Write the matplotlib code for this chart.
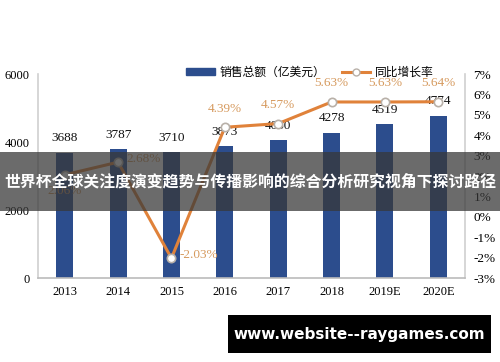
import matplotlib
matplotlib.use("Agg")
import matplotlib.pyplot as plt
from matplotlib.lines import Line2D
from matplotlib.patches import Rectangle

years = ["2013", "2014", "2015", "2016", "2017", "2018", "2019E", "2020E"]
sales = [3688, 3787, 3710, 3873, 4050, 4278, 4519, 4774]
growth = [2.06, 2.68, -2.03, 4.39, 4.57, 5.63, 5.63, 5.64]
left_ticks = [0, 2000, 4000, 6000]
right_ticks = [-3, -2, -1, 0, 1, 2, 3, 4, 5, 6, 7]

bar_color = "#2C4D8D"
line_color = "#E0823A"
pct_color = "#D69A5E"
serif = "Liberation Serif"
cjk = ["Noto Sans CJK SC", "DejaVu Sans"]

fig = plt.figure(figsize=(5, 3.62), dpi=100)
ax = fig.add_axes([0.076, 0.232, 0.854, 0.5635])
x = list(range(len(years)))
ax.bar(x, sales, width=0.32, color=bar_color, zorder=2)
ax.set_xlim(-0.5, len(years) - 0.5)
ax.set_ylim(0, 6000)
ax.set_yticks(left_ticks)
ax.set_yticklabels([str(v) for v in left_ticks], fontfamily=serif, fontsize=9)
ax.set_xticks(x)
ax.set_xticklabels(years, fontfamily=serif, fontsize=9)
ax.tick_params(length=0, pad=6)
ax.spines["top"].set_visible(False)
ax.spines["left"].set_color("#D0D0D0")
ax.spines["right"].set_color("#D0D0D0")
ax.spines["bottom"].set_color("#BBBBBB")
for s in ["left", "right", "bottom"]:
    ax.spines[s].set_linewidth(1.2)

for xi, v in zip(x, sales):
    ax.annotate(str(v), (xi, v), xytext=(0, 6), textcoords="offset points",
                ha="center", va="bottom", fontfamily=serif, fontsize=9.5, color="#111111", zorder=5)

ax2 = ax.twinx()
ax2.set_ylim(-3, 7)
ax2.set_yticks(right_ticks)
ax2.set_yticklabels([f"{v}%" for v in right_ticks], fontfamily=serif, fontsize=9.5)
ax2.tick_params(length=0, pad=6)
for s in ["top", "left", "bottom", "right"]:
    ax2.spines[s].set_visible(False)
ax2.plot(x, growth, color=line_color, lw=2.2, marker="o", ms=6,
         mfc="white", mec="#B8B0A8", mew=1.2, zorder=4)

offsets = [(0, -7, "center", "top"), (6, 2, "left", "center"), (6, 2, "left", "center"),
           (0, 9, "center", "bottom"), (0, 9, "center", "bottom"), (0, 9, "center", "bottom"),
           (0, 9, "center", "bottom"), (0, 9, "center", "bottom")]
for xi, g, (dx, dy, ha, va) in zip(x, growth, offsets):
    ax2.annotate(f"{g:.2f}%", (xi, g), xytext=(dx, dy), textcoords="offset points",
                 ha=ha, va=va, fontfamily=serif, fontsize=9.5, color=pct_color, zorder=5)

handles = [Rectangle((0, 0), 1, 1, color=bar_color),
           Line2D([], [], color=line_color, lw=2.2, marker="o", ms=5, mfc="white", mec="#B8B0A8")]
leg = fig.legend(handles, ["销售总额（亿美元）", "同比增长率"], loc="center",
                 bbox_to_anchor=(0.62, 0.80), ncol=2, frameon=False,
                 prop={"family": cjk, "size": 8.5}, handlelength=2.4, handleheight=0.5,
                 columnspacing=1.4, handletextpad=0.4)

# overlay banner
fig.patches.append(Rectangle((0, (362 - 211) / 362), 1, 59 / 362, transform=fig.transFigure,
                             facecolor="#383838", alpha=0.74, edgecolor="none", zorder=10))
fig.text(0.5, (362 - 182) / 362, "世界杯全球关注度演变趋势与传播影响的综合分析研究视角下探讨路径",
         ha="center", va="center", color="white", fontsize=11.4, fontweight="bold",
         family=cjk, zorder=11)

# watermark box
fig.patches.append(Rectangle((228 / 500, (362 - 353) / 362), 263 / 500, 38 / 362,
                             transform=fig.transFigure, facecolor="black",
                             edgecolor="none", zorder=10))
fig.text(359.5 / 500, (362 - 334) / 362, "www.website--raygames.com", ha="center", va="center",
         color="white", fontsize=11, fontweight="bold", family="DejaVu Sans", zorder=11)

fig.savefig("out.png", dpi=100)
